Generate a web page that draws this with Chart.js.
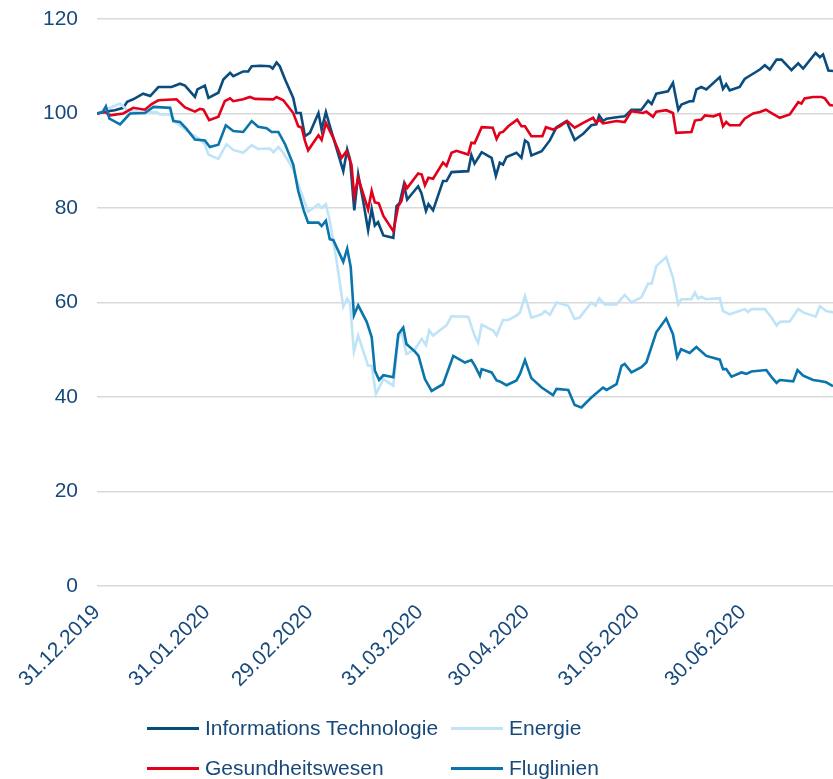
<!DOCTYPE html>
<html>
<head>
<meta charset="utf-8">
<script src="https://cdn.jsdelivr.net/npm/chart.js@4.4.1/dist/chart.umd.min.js"></script>
<style>
  body { margin: 0; background: #fff; }
  #wrap { position: relative; width: 833px; height: 779px; }
  #legend { position: absolute; left: 0; top: 0; font: 21px "Liberation Sans", Arial, sans-serif; color: #17497a; }
  .item { position: absolute; height: 24px; line-height: 24px; white-space: nowrap; }
  .swatch { position: absolute; left: 0; top: 11px; width: 52px; height: 3px; }
  .label { position: absolute; left: 58px; top: 0; }
</style>
</head>
<body>
<div id="wrap">
  <canvas id="my-chart" width="833" height="779"></canvas>
  <div id="legend"></div>
</div>
<script>
'use strict';

// TICKS (days after 31.12.2019)
const tickDays = [0, 31, 60, 91, 121, 152, 182];
const tickLabels = ['31.12.2019', '31.01.2020', '29.02.2020', '31.03.2020', '30.04.2020', '31.05.2020', '30.06.2020'];

const seriesNames = ['Informations Technologie', 'Energie', 'Gesundheitswesen', 'Fluglinien'];
const seriesColors = ['#0b4c7e', '#bfe4f8', '#e2001a', '#0a74ad'];

// INFORMATIONS TECHNOLOGIE
const itDays = [0, 2.3, 5, 7.4, 8.5, 10.2, 13, 15, 17.3, 21, 23.4, 24.8, 27.6, 28.3, 30.4, 31.4, 34.2, 35.6, 37.5, 38.4, 41.2, 42.6, 43.6, 46, 48.7, 49.5, 50.6, 51.5, 53, 55.3, 56.2, 57.4, 58.6, 60, 62.4, 63.3, 64.5, 65.6, 69.4, 70.5, 71.3, 72.5, 73.6, 75, 76.4, 77.4, 78.3, 79.2, 80.7, 83.5, 84.4, 85.3, 86.5, 87.4, 90.5, 91.4, 92.7, 93.4, 94.7, 97.5, 98.5, 99.9, 104.6, 105.5, 106.4, 108.4, 111.2, 112.4, 113.5, 114.4, 115.4, 118.2, 119.6, 120.6, 121.5, 122.4, 125.3, 127.6, 129.5, 132.3, 134.6, 137, 139.3, 140.7, 141.5, 142.6, 143.6, 146.4, 148.7, 150.6, 153.4, 155.3, 156.3, 157.6, 160.9, 162.3, 163.8, 164.7, 167, 168, 168.9, 170.3, 171.7, 175.5, 176.4, 177.3, 178.3, 181.1, 182.5, 184.4, 186.8, 188.2, 189.6, 191.5, 192.9, 195.7, 197.6, 199, 202.5, 203.7, 204.6, 206.1, 207.4];
const itValues = [100, 100.4, 100.7, 101.2, 102.5, 103, 104.2, 103.7, 105.6, 105.6, 106.3, 105.9, 103.5, 105.1, 105.9, 103.3, 104.4, 107.2, 108.6, 107.9, 108.9, 108.9, 110, 110.1, 110, 109.5, 110.8, 110, 107.2, 103.3, 100.1, 100.1, 95.2, 95.9, 100.1, 96.6, 100.3, 97.4, 87.8, 92.4, 90.3, 79.5, 87.1, 81.5, 75.3, 79.8, 76.3, 77, 74.2, 73.7, 80.4, 81.1, 85, 81.8, 84.6, 83.2, 79.4, 80.8, 79.5, 85.7, 85.7, 87.6, 87.8, 91.2, 89.4, 91.8, 90.6, 86.8, 89.6, 89.2, 90.8, 91.7, 90.6, 94.3, 93.8, 91.1, 92, 94.3, 97.1, 98.4, 94.4, 95.7, 97.5, 97.7, 99.6, 98.4, 98.9, 99.2, 99.4, 100.8, 100.8, 102.7, 102, 104.2, 104.7, 106.5, 100.8, 101.9, 102.6, 102.6, 105.1, 105.6, 105.1, 107.7, 105.2, 106.2, 104.9, 105.6, 107.3, 108.2, 109.3, 110.2, 109.3, 111.4, 111.4, 109.2, 110.6, 109.5, 112.8, 111.9, 112.5, 109.1, 109];

// ENERGIE
const energyDays = [0, 2.3, 6.5, 8.4, 12.1, 16.8, 17.8, 20.6, 22.4, 25.3, 28.5, 30.4, 31.4, 34.2, 36.5, 38.4, 41.2, 43.6, 45.4, 48.7, 49.7, 51.1, 52.5, 55.3, 57.2, 59.5, 62.4, 63.3, 64.5, 65.6, 67.5, 69.4, 70.5, 71.3, 72.4, 73.6, 76.4, 77.4, 78.6, 80.7, 83.5, 84.9, 85.8, 87.2, 89.6, 91.5, 92.7, 93.6, 94.7, 98.5, 99.9, 104.6, 106.4, 107.4, 108.4, 111.7, 112.6, 114.4, 115.9, 118.2, 119.2, 120.6, 122.4, 125.3, 126.2, 127.6, 129.5, 132.8, 134.6, 136, 139.3, 140.5, 141.5, 143.1, 146.4, 148.7, 150.6, 153.4, 155.3, 156.3, 157.6, 160.4, 162.3, 163.8, 164.7, 167.5, 168.5, 169.4, 170.3, 171.7, 175.5, 176.4, 178.3, 182.5, 183.5, 184.4, 188.2, 190.1, 191.5, 192.4, 195.2, 197.6, 199, 202.5, 203.7, 205.5, 207.4];
const energyValues = [100, 100.8, 102.1, 100.8, 100.3, 100.3, 99.8, 99.8, 98, 96.3, 94.8, 93.5, 91.3, 90.4, 93.5, 92.3, 91.7, 93.3, 92.5, 92.6, 91.8, 92.9, 91.7, 88.2, 83.9, 79.2, 80.8, 80, 80.8, 77.3, 68.9, 59.1, 60.8, 59.8, 49.6, 53, 46.6, 46.6, 40.6, 43.8, 42.4, 52.3, 54.1, 49.1, 50.1, 52.3, 51, 54.1, 53, 55.2, 57.1, 57, 53, 51.5, 55.3, 54, 53, 56.3, 56.3, 57.2, 57.9, 61.4, 56.8, 57.5, 58.2, 57.4, 60, 59.3, 56.5, 56.8, 60, 59.3, 60.9, 59.6, 59.6, 61.6, 60, 61.1, 64, 64, 67.7, 69.6, 65.3, 59.6, 60.7, 60.7, 62.1, 60.8, 61.2, 60.7, 60.9, 58.2, 57.5, 58.6, 58, 58.6, 58.6, 56.8, 55.1, 55.9, 56, 58.6, 57.9, 57, 59.2, 58.2, 57.9];

// GESUNDHEITSWESEN
const healthDays = [0, 2.3, 3.7, 7.4, 10.2, 13.5, 15.4, 17.3, 22.4, 24.8, 27.6, 29, 30, 31.6, 34.2, 36, 37.5, 38.4, 41.2, 43.1, 44.5, 49.7, 50.6, 52.5, 55.3, 56.7, 57.7, 58.6, 59.5, 62.4, 63.3, 64.5, 66.6, 68.9, 70.3, 71.7, 72.5, 73.6, 76.4, 77.4, 78.3, 79.4, 80.7, 83.5, 84.9, 85.8, 86.8, 87.4, 90.5, 91.5, 92.4, 93.4, 94.7, 97.5, 98.5, 99.9, 101.3, 104.6, 105.5, 106.4, 108.4, 111.5, 112.6, 113.5, 114.4, 115.9, 118.4, 119.6, 120.6, 122.4, 125.5, 126.5, 128.5, 130.4, 132.5, 134.6, 137, 139.8, 140.7, 141.5, 142.6, 146.4, 148.7, 150.6, 153.9, 154.8, 156.7, 157.6, 160.4, 162.3, 163.2, 167.5, 168.5, 170.3, 171.3, 173.7, 175.5, 176.4, 177.3, 178.3, 181.1, 182.5, 184.9, 186.8, 188.5, 190.1, 192.4, 195.2, 197.6, 198.5, 199.4, 201.8, 204.2, 205.1, 206.5, 207.4];
const healthValues = [100, 100.3, 99.6, 100, 101.2, 100.8, 102, 102.8, 103, 101.3, 100.4, 101, 100.8, 98.6, 99.3, 102.6, 103.2, 102.6, 103, 103.5, 103.1, 103, 103.5, 102.8, 100.1, 97.3, 97, 94.2, 92.2, 95.4, 94.4, 98, 94.8, 90.6, 92, 89.2, 82.5, 86.4, 79.7, 83.6, 81.2, 81, 78.3, 75.1, 80.4, 81.5, 85.1, 84.2, 87.3, 87.1, 84.8, 86.4, 86.2, 89.6, 88.9, 91.7, 92.1, 91.3, 93.8, 93.7, 97.1, 97, 94.6, 95.9, 96.1, 97.3, 98.7, 97.3, 97.3, 95.2, 95.2, 97.1, 96.6, 97.3, 98.4, 97, 98, 99.1, 98, 98.7, 97.9, 98.4, 98.2, 100.5, 100.1, 100.4, 99.3, 100.4, 100.7, 100.1, 95.9, 96.1, 98.5, 98.7, 99.6, 99.4, 99.9, 97.3, 98.2, 97.5, 97.5, 98.9, 100, 100.3, 100.8, 100.1, 99.1, 99.8, 102.4, 102.1, 103.2, 103.5, 103.5, 103.2, 101.8, 101.7];

// FLUGLINIEN
const airlineDays = [0, 1.6, 2.5, 3.5, 6.5, 9.3, 13.5, 15.9, 20.6, 21.5, 23.4, 25.3, 27.6, 30.4, 31.8, 34.2, 36.3, 38.4, 41.2, 43.6, 45.4, 47.8, 49.2, 51.1, 53, 55.3, 56.7, 58.3, 59.5, 62.4, 63.3, 64.5, 65.6, 66.6, 69.4, 70.5, 71.5, 72.4, 73.6, 76, 77.4, 78.3, 79.5, 80.7, 83.5, 84.9, 86.3, 87.2, 89.6, 90.6, 92.4, 94.3, 97.5, 100.4, 103.7, 105.5, 106.5, 107.9, 108.4, 111.2, 112.6, 113.5, 115.4, 118.2, 119.2, 120.6, 122.4, 125.3, 128.5, 129.5, 132.8, 134.6, 136.5, 139.3, 142.6, 143.6, 146.4, 147.8, 148.7, 150.6, 153.4, 154.8, 157.6, 160.4, 162.3, 163.5, 164.6, 167, 168.9, 171.7, 175.5, 176.4, 177.3, 178.8, 181.6, 183, 184.4, 188.6, 190.1, 191.5, 192.4, 196.2, 197.4, 199, 201.8, 203.7, 205.5, 207.4];
const airlineValues = [100, 100.3, 101.5, 98.9, 97.7, 100, 100.1, 101.4, 101.2, 98.4, 98.2, 96.7, 94.5, 94.3, 92.9, 93.4, 97.5, 96.3, 96.1, 98.4, 97.2, 96.9, 96.1, 96.1, 93.5, 89.2, 83.6, 79.4, 76.9, 76.9, 76.2, 77.3, 73.4, 73.2, 68.6, 71.4, 67.5, 57.3, 59.4, 55.9, 52.7, 45.6, 43.6, 44.6, 44.2, 53.3, 54.7, 51.2, 49.6, 48.7, 43.8, 41.3, 42.7, 48.7, 47.3, 47.8, 46.6, 44.5, 45.9, 45.2, 43.5, 43.3, 42.5, 43.5, 44.9, 47.8, 44, 42, 40.4, 41.7, 41.5, 38.3, 37.8, 39.9, 42, 41.5, 42.7, 46.6, 47, 45.2, 46.3, 47.3, 53.7, 56.6, 53.3, 48.4, 50.1, 49.3, 50.6, 48.7, 47.9, 45.9, 45.9, 44.3, 45.2, 44.9, 45.4, 45.7, 44.2, 43, 43.6, 43.3, 45.7, 44.5, 43.6, 43.4, 43.1, 42.3];

const seriesDays = [itDays, energyDays, healthDays, airlineDays];
const seriesValues = [itValues, energyValues, healthValues, airlineValues];

const textColor = '#17497a';
const fontFamily = '"Liberation Sans", Arial, sans-serif';

// BUILD DATASETS
let datasets = [];
for (let i = 0; i < seriesNames.length; i++) {
  let points = [];
  for (let j = 0; j < seriesDays[i].length; j++) {
    points.push({ x: seriesDays[i][j], y: seriesValues[i][j] });
  }
  datasets.push({
    label: seriesNames[i],
    data: points,
    borderColor: seriesColors[i],
    backgroundColor: seriesColors[i],
    borderWidth: 2.6,
    pointRadius: 0,
    tension: 0,
    order: seriesNames.length - i
  });
}

let ctx = document.getElementById('my-chart');

new Chart(ctx, {
  type: 'line',
  data: { datasets: datasets },
  options: {
    responsive: false,
    animation: false,
    layout: { padding: { top: 6, right: 0, bottom: 83, left: 0 } },
    plugins: { legend: { display: false }, tooltip: { enabled: false } },
    scales: {
      x: {
        type: 'linear',
        min: 0,
        max: 207.4,
        afterBuildTicks: function (axis) {
          axis.ticks = tickDays.map(function (d) { return { value: d }; });
        },
        afterFit: function (axis) { axis.height = 110; },
        grid: { display: false },
        border: { display: false },
        ticks: {
          autoSkip: false,
          maxRotation: 45,
          minRotation: 45,
          padding: 6,
          color: textColor,
          font: { family: fontFamily, size: 21 },
          callback: function (value) {
            let i = tickDays.indexOf(value);
            return i >= 0 ? tickLabels[i] : '';
          }
        }
      },
      y: {
        min: 0,
        max: 120,
        afterFit: function (axis) {
          axis.width = 97;
          axis.paddingTop = 19;
          axis.paddingBottom = 0;
        },
        grid: { color: '#d9d9d9', lineWidth: 1.5, drawTicks: false },
        border: { display: false },
        ticks: {
          stepSize: 20,
          padding: 19,
          color: textColor,
          font: { family: fontFamily, size: 21 }
        }
      }
    }
  }
});

// HTML LEGEND, TWO COLUMNS
let legend = document.getElementById('legend');
let colLeft = [147, 451];
let rowMid = [728, 768];
for (let i = 0; i < seriesNames.length; i++) {
  let item = document.createElement('div');
  item.className = 'item';
  item.style.left = colLeft[i % 2] + 'px';
  item.style.top = (rowMid[Math.floor(i / 2)] - 12) + 'px';
  let sw = document.createElement('div');
  sw.className = 'swatch';
  sw.style.background = seriesColors[i];
  let lb = document.createElement('span');
  lb.className = 'label';
  lb.textContent = seriesNames[i];
  item.appendChild(sw);
  item.appendChild(lb);
  legend.appendChild(item);
}
</script>
</body>
</html>
